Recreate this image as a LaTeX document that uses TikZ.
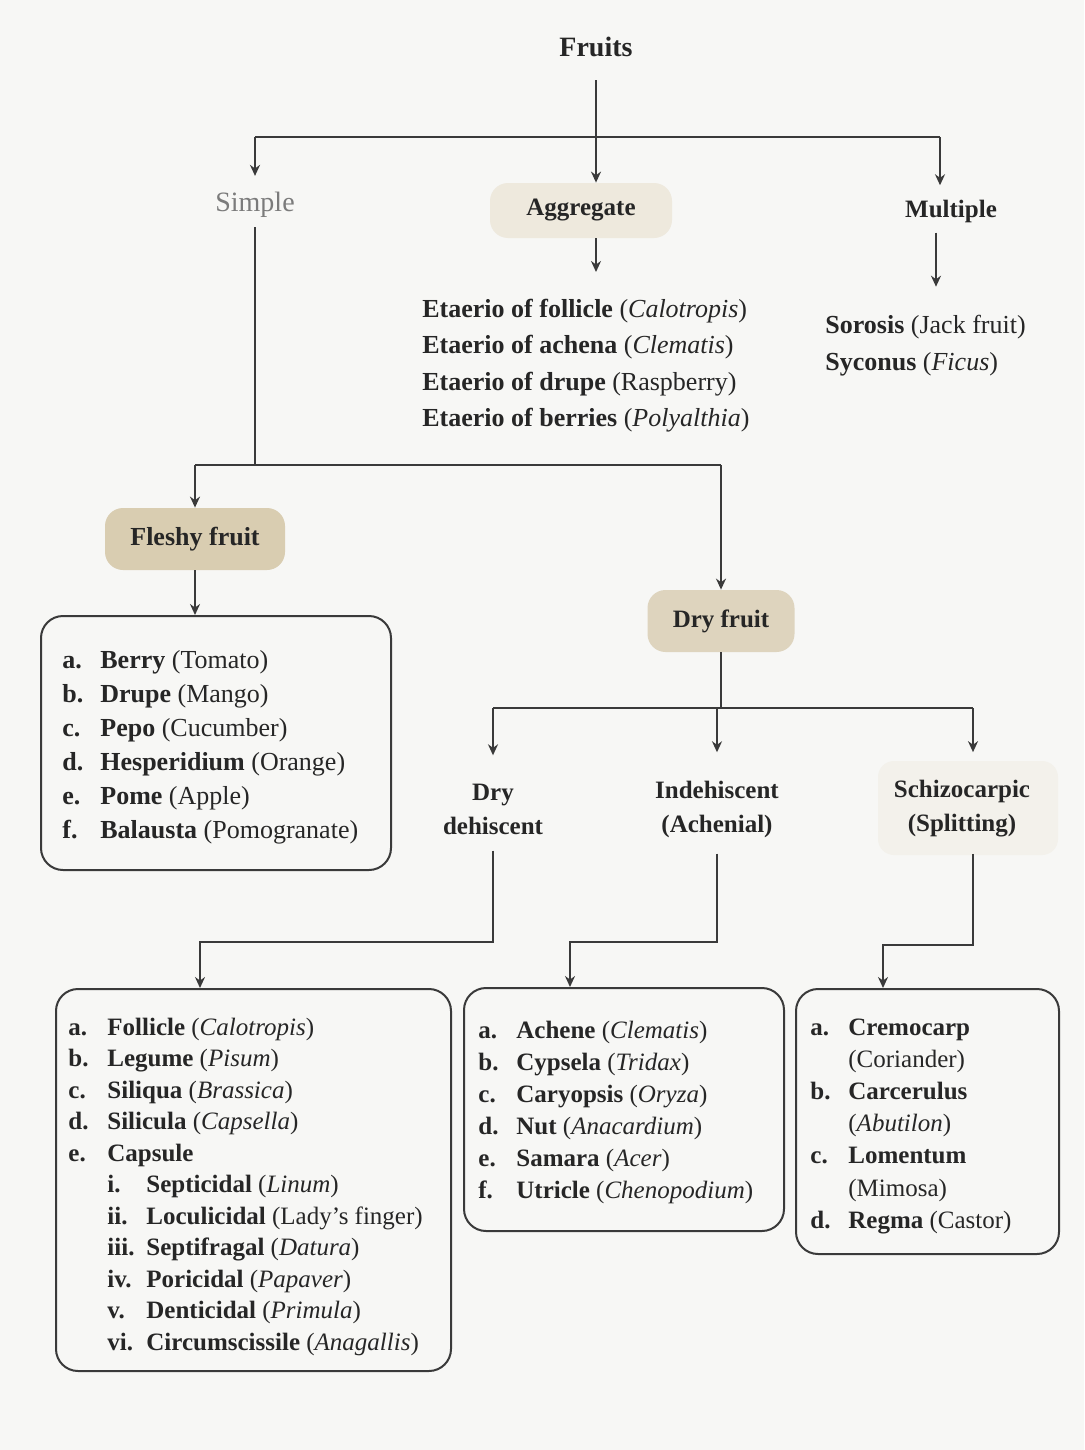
\documentclass[tikz,border=0pt]{standalone}
\usepackage{fontspec}
\setmainfont{Liberation Serif}
\usetikzlibrary{arrows.meta}
\definecolor{ink}{HTML}{262626}
\definecolor{linec}{HTML}{3A3A3A}
\definecolor{simplec}{HTML}{7B7B7B}
\definecolor{paper}{HTML}{F7F7F5}
\definecolor{tanA}{HTML}{D9CDB1}
\definecolor{tanB}{HTML}{DED4BE}
\definecolor{tanC}{HTML}{EEE9DD}
\definecolor{tanD}{HTML}{F3F1EB}
\begin{document}
\begin{tikzpicture}[x=0.5pt,y=-0.5pt,
 conn/.style={draw=linec,line width=1pt},
 arr/.style={conn,-{Stealth[length=5.5pt,width=5pt]}},
 head/.style={font=\fontsize{12.5}{17}\selectfont\bfseries,text=ink,inner sep=0pt,align=center},
 pill/.style={head,rounded corners=9pt,minimum height=31pt},
 listbox/.style={draw=linec,line width=1pt,rounded corners=11pt,anchor=north west,inner sep=0pt},
 listtext/.style={anchor=base west,inner sep=0pt,text=ink},
]
\useasboundingbox (0,0) rectangle (1084,1450);
\fill[paper] (0,0) rectangle (1084,1450);

% top level
\node[head,font=\fontsize{14}{17}\selectfont\bfseries] (fruits) at (596,47) {Fruits};
\node[font=\fontsize{14}{17}\selectfont,text=simplec,inner sep=0pt] (simple) at (255,205) {Simple};
\node[pill,fill=tanC,minimum width=91pt,minimum height=27.5pt] (agg) at (581,210.5) {Aggregate};
\node[head] (mult) at (951,211) {Multiple};

\node[listtext,font=\fontsize{13}{18.3}\selectfont] (agglist) at (422,317) {\begin{tabular}[t]{@{}l@{}}
\textbf{Etaerio of follicle} (\textit{Calotropis})\\
\textbf{Etaerio of achena} (\textit{Clematis})\\
\textbf{Etaerio of drupe} (Raspberry)\\
\textbf{Etaerio of berries} (\textit{Polyalthia})
\end{tabular}};
\node[listtext,font=\fontsize{13}{18.5}\selectfont] (multlist) at (825,333) {\begin{tabular}[t]{@{}l@{}}
\textbf{Sorosis} (Jack fruit)\\
\textbf{Syconus} (\textit{Ficus})
\end{tabular}};

% fleshy
\node[pill,fill=tanA,minimum width=90pt,font=\fontsize{13}{17}\selectfont\bfseries] (fleshy) at (195,539) {Fleshy fruit};
\node[listbox,minimum width=175pt,minimum height=127pt] (fbox) at (40,615) {};
\node[listtext,font=\fontsize{13}{17}\selectfont] (flist) at (62,668) {\begin{tabular}[t]{@{}p{19pt}@{}l@{}}
\textbf{a.} & \textbf{Berry} (Tomato)\\
\textbf{b.} & \textbf{Drupe} (Mango)\\
\textbf{c.} & \textbf{Pepo} (Cucumber)\\
\textbf{d.} & \textbf{Hesperidium} (Orange)\\
\textbf{e.} & \textbf{Pome} (Apple)\\
\textbf{f.} & \textbf{Balausta} (Pomogranate)
\end{tabular}};

% dry
\node[pill,fill=tanB,minimum width=73.5pt] (dry) at (721,621) {Dry fruit};
\node[head] (dd) at (493,809) {Dry\\dehiscent};
\node[head] (ind) at (717,809) {Indehiscent\\(Achenial)};
\node[fill=tanD,rounded corners=8pt,minimum width=90pt,minimum height=47pt,inner sep=0pt] (schbg) at (968,808) {};
\node[head] (sch) at (962,809) {Schizocarpic\\(Splitting)};

\node[listbox,minimum width=197.5pt,minimum height=191pt] (b1) at (55,988) {};
\node[listtext,font=\fontsize{12.5}{15.75}\selectfont] (l1) at (68,1035) {\begin{tabular}[t]{@{}p{19.5pt}@{}l@{}}
\textbf{a.} & \textbf{Follicle} (\textit{Calotropis})\\
\textbf{b.} & \textbf{Legume} (\textit{Pisum})\\
\textbf{c.} & \textbf{Siliqua} (\textit{Brassica})\\
\textbf{d.} & \textbf{Silicula} (\textit{Capsella})\\
\textbf{e.} & \textbf{Capsule}\\
 & \makebox[19.5pt][l]{\textbf{i.}}\textbf{Septicidal} (\textit{Linum})\\
 & \makebox[19.5pt][l]{\textbf{ii.}}\textbf{Loculicidal} (Lady’s finger)\\
 & \makebox[19.5pt][l]{\textbf{iii.}}\textbf{Septifragal} (\textit{Datura})\\
 & \makebox[19.5pt][l]{\textbf{iv.}}\textbf{Poricidal} (\textit{Papaver})\\
 & \makebox[19.5pt][l]{\textbf{v.}}\textbf{Denticidal} (\textit{Primula})\\
 & \makebox[19.5pt][l]{\textbf{vi.}}\textbf{Circumscissile} (\textit{Anagallis})
\end{tabular}};

\node[listbox,minimum width=160pt,minimum height=121.5pt] (b2) at (463,987) {};
\node[listtext,font=\fontsize{12.5}{16}\selectfont] (l2) at (478,1038) {\begin{tabular}[t]{@{}p{19pt}@{}l@{}}
\textbf{a.} & \textbf{Achene} (\textit{Clematis})\\
\textbf{b.} & \textbf{Cypsela} (\textit{Tridax})\\
\textbf{c.} & \textbf{Caryopsis} (\textit{Oryza})\\
\textbf{d.} & \textbf{Nut} (\textit{Anacardium})\\
\textbf{e.} & \textbf{Samara} (\textit{Acer})\\
\textbf{f.} & \textbf{Utricle} (\textit{Chenopodium})
\end{tabular}};

\node[listbox,minimum width=131.5pt,minimum height=132.5pt] (b3) at (795,988) {};
\node[listtext,font=\fontsize{12.5}{16.1}\selectfont] (l3) at (810,1035) {\begin{tabular}[t]{@{}p{19pt}@{}l@{}}
\textbf{a.} & \textbf{Cremocarp}\\
 & (Coriander)\\
\textbf{b.} & \textbf{Carcerulus}\\
 & (\textit{Abutilon})\\
\textbf{c.} & \textbf{Lomentum}\\
 & (Mimosa)\\
\textbf{d.} & \textbf{Regma} (Castor)
\end{tabular}};

% connectors
\draw[arr,shorten <=11.5pt] (fruits.south) -- (fruits.south |- agg.north);
\coordinate (hA) at (255,137);
\coordinate (hB) at (940,137);
\draw[conn] (hA) -- (hB);
\draw[arr,shorten >=8pt] (hA) -- (simple.north);
\draw[arr,shorten >=7pt] (hB) -- (hB |- mult.north);
\draw[arr,shorten >=9.5pt] (fruits.south |- agg.south) -- (fruits.south |- agglist.north);
\draw[arr,shorten <=5pt,shorten >=10pt] ([xshift=-7.5pt]mult.south) -- ([xshift=-7.5pt]mult.south |- multlist.north);

\coordinate (hC) at (255,465);
\draw[conn,shorten <=4.5pt] (simple.south) -- (hC);
\draw[conn] (fleshy.north |- hC) -- (dry.north |- hC);
\draw[arr] (fleshy.north |- hC) -- (fleshy.north);
\draw[arr] (dry.north |- hC) -- (dry.north);
\draw[arr] (fleshy.south) -- (fleshy.south |- fbox.north);

\coordinate (hD) at (719,708);
\coordinate (hE) at (973,708);
\draw[conn] (dry.south) -- (dry.south |- hD);
\draw[conn] (dd.north |- hD) -- (hE);
\draw[arr,shorten >=14pt] (dd.north |- hD) -- (dd.north);
\draw[arr,shorten >=14pt] (ind.north |- hD) -- (ind.north);
\draw[arr,shorten >=14pt] (hE) -- (hE |- sch.north);

\coordinate (k1) at (200,942);
\coordinate (k2) at (570,942);
\coordinate (k3) at (883,945);
\draw[arr,shorten <=8pt] (dd.south) |- (k1) -- (k1 |- b1.north);
\draw[arr,shorten <=8pt] (ind.south) |- (k2) -- (k2 |- b2.north);
\draw[arr,shorten <=8pt] (hE |- sch.south) |- (k3) -- (k3 |- b3.north);
\end{tikzpicture}
\end{document}
